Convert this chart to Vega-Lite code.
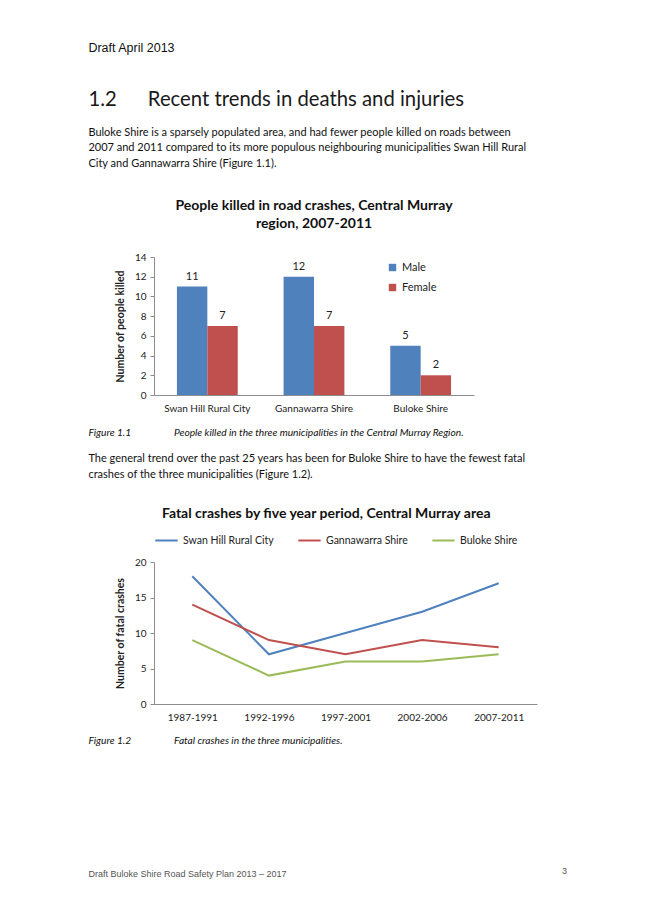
{
  "$schema": "https://vega.github.io/schema/vega-lite/v6.json",
  "background": "white",
  "padding": {"left": 88, "top": 41, "right": 0, "bottom": 0},
  "config": {
    "font": "Lato",
    "view": {"stroke": null},
    "axis": {"labelFont": "Lato", "titleFont": "Lato", "labelColor": "#222", "titleColor": "#222", "domainColor": "#8c8c8c", "tickColor": "#8c8c8c", "grid": false, "labelFontSize": 10, "titleFontSize": 10.5, "titleFontWeight": "bold"},
    "legend": {"labelFont": "Lato", "labelColor": "#222"},
    "title": {"anchor": "start", "color": "#111"},
    "concat": {"spacing": 14}
  },
  "resolve": {"scale": {"color": "independent"}, "legend": {"color": "independent"}},
  "title": {"text": "3", "orient": "bottom", "anchor": "end", "font": "Liberation Sans", "fontSize": 9, "fontWeight": "normal", "color": "#555", "offset": 0, "dy": -12, "dx": 30},
  "vconcat": [
    {
      "resolve": {"scale": {"color": "independent"}, "legend": {"color": "independent"}},
      "title": {"text": "Draft Buloke Shire Road Safety Plan 2013 – 2017", "orient": "bottom", "anchor": "start", "font": "Liberation Sans", "fontSize": 9, "fontWeight": "normal", "color": "#555", "offset": 124},
      "vconcat": [
        {
          "resolve": {"scale": {"color": "independent"}, "legend": {"color": "independent"}},
          "title": {"text": "Draft April 2013", "anchor": "start", "font": "Liberation Sans", "fontSize": 12.5, "fontWeight": "normal", "color": "#111", "offset": 36},
          "spacing": 14,
          "vconcat": [
            {
              "resolve": {"scale": {"color": "independent"}, "legend": {"color": "independent"}},
              "title": {
                "text": "1.2\u00a0\u00a0\u00a0\u00a0\u00a0\u00a0Recent trends in deaths and injuries",
                "subtitle": ["Buloke Shire is a sparsely populated area, and had fewer people killed on roads between", "2007 and 2011 compared to its more populous neighbouring municipalities Swan Hill Rural", "City and Gannawarra Shire (Figure 1.1)."],
                "anchor": "start", "font": "Lato", "fontSize": 20.3, "fontWeight": "normal", "color": "#1a1a1a",
                "subtitleFont": "Lato", "subtitleFontSize": 11, "subtitleColor": "#111", "subtitlePadding": 16, "subtitleLineHeight": 15.7,
                "offset": 30
              },
              "vconcat": [
                {
                  "resolve": {"scale": {"color": "independent"}, "legend": {"color": "independent"}},
                  "title": {"text": "Figure 1.1\u00a0\u00a0\u00a0\u00a0\u00a0\u00a0\u00a0\u00a0\u00a0\u00a0\u00a0\u00a0\u00a0\u00a0\u00a0\u00a0\u00a0\u00a0People killed in the three municipalities in the Central Murray Region.", "orient": "bottom", "anchor": "start", "font": "Lato", "fontSize": 10.2, "fontStyle": "italic", "fontWeight": "normal", "color": "#111", "offset": 15, "dx": -27},
                  "vconcat": [
                    {
                      "title": {"text": ["People killed in road crashes, Central Murray", "region, 2007-2011"], "anchor": "middle", "font": "Lato", "fontSize": 14, "fontWeight": "bold", "color": "#111", "lineHeight": 18, "offset": 21},
                      "width": 320,
                      "height": 138,
                      "data": {"values": [
                        {"municipality": "Swan Hill Rural City", "sex": "Male", "killed": 11},
                        {"municipality": "Swan Hill Rural City", "sex": "Female", "killed": 7},
                        {"municipality": "Gannawarra Shire", "sex": "Male", "killed": 12},
                        {"municipality": "Gannawarra Shire", "sex": "Female", "killed": 7},
                        {"municipality": "Buloke Shire", "sex": "Male", "killed": 5},
                        {"municipality": "Buloke Shire", "sex": "Female", "killed": 2}
                      ]},
                      "encoding": {
                        "x": {"field": "municipality", "type": "nominal", "sort": ["Swan Hill Rural City", "Gannawarra Shire", "Buloke Shire"], "scale": {"paddingInner": 0.43, "paddingOuter": 0.215}, "axis": {"title": null, "labelAngle": 0, "ticks": false, "labelPadding": 8}},
                        "xOffset": {"field": "sex", "type": "nominal", "sort": ["Male", "Female"]},
                        "y": {"field": "killed", "type": "quantitative", "scale": {"domain": [0, 14]}, "axis": {"title": "Number of people killed", "values": [0, 2, 4, 6, 8, 10, 12, 14], "tickSize": 4, "labelPadding": 4, "titlePadding": 9}}
                      },
                      "layer": [
                        {
                          "mark": {"type": "bar"},
                          "encoding": {
                            "color": {"field": "sex", "type": "nominal", "scale": {"domain": ["Male", "Female"], "range": ["#4F81BD", "#C0504D"]}, "legend": {"title": null, "orient": "none", "legendX": 233, "legendY": 5, "symbolType": "square", "symbolSize": 55, "labelFontSize": 11, "rowPadding": 8, "symbolOpacity": 1}}
                          }
                        },
                        {
                          "mark": {"type": "text", "dy": -10, "fontSize": 11, "color": "#222", "font": "Lato"},
                          "encoding": {"text": {"field": "killed", "type": "quantitative"}}
                        }
                      ]
                    }
                  ]
                }
              ]
            },
            {
              "resolve": {"scale": {"color": "independent"}, "legend": {"color": "independent"}},
              "title": {"text": ["The general trend over the past 25 years has been for Buloke Shire to have the fewest fatal", "crashes of the three municipalities (Figure 1.2)."], "anchor": "start", "font": "Lato", "fontSize": 11, "fontWeight": "normal", "color": "#111", "lineHeight": 15.7, "offset": 27},
              "vconcat": [
                {
                  "resolve": {"scale": {"color": "independent"}, "legend": {"color": "independent"}},
                  "title": {"text": "Figure 1.2\u00a0\u00a0\u00a0\u00a0\u00a0\u00a0\u00a0\u00a0\u00a0\u00a0\u00a0\u00a0\u00a0\u00a0\u00a0\u00a0\u00a0\u00a0Fatal crashes in the three municipalities.", "orient": "bottom", "anchor": "start", "font": "Lato", "fontSize": 10.2, "fontStyle": "italic", "fontWeight": "normal", "color": "#111", "offset": 14, "dx": -27},
                  "vconcat": [
                    {
                      "resolve": {"scale": {"color": "independent"}, "legend": {"color": "independent"}},
                      "title": {"text": "Fatal crashes by five year period, Central Murray area", "anchor": "middle", "font": "Lato", "fontSize": 14, "fontWeight": "bold", "color": "#111", "offset": 7},
                      "vconcat": [
                        {
                          "width": 383,
                          "height": 142,
                          "data": {"values": [
                            {"period": "1987-1991", "municipality": "Swan Hill Rural City", "crashes": 18},
                            {"period": "1992-1996", "municipality": "Swan Hill Rural City", "crashes": 7},
                            {"period": "1997-2001", "municipality": "Swan Hill Rural City", "crashes": 10},
                            {"period": "2002-2006", "municipality": "Swan Hill Rural City", "crashes": 13},
                            {"period": "2007-2011", "municipality": "Swan Hill Rural City", "crashes": 17},
                            {"period": "1987-1991", "municipality": "Gannawarra Shire", "crashes": 14},
                            {"period": "1992-1996", "municipality": "Gannawarra Shire", "crashes": 9},
                            {"period": "1997-2001", "municipality": "Gannawarra Shire", "crashes": 7},
                            {"period": "2002-2006", "municipality": "Gannawarra Shire", "crashes": 9},
                            {"period": "2007-2011", "municipality": "Gannawarra Shire", "crashes": 8},
                            {"period": "1987-1991", "municipality": "Buloke Shire", "crashes": 9},
                            {"period": "1992-1996", "municipality": "Buloke Shire", "crashes": 4},
                            {"period": "1997-2001", "municipality": "Buloke Shire", "crashes": 6},
                            {"period": "2002-2006", "municipality": "Buloke Shire", "crashes": 6},
                            {"period": "2007-2011", "municipality": "Buloke Shire", "crashes": 7}
                          ]},
                          "mark": {"type": "line", "strokeWidth": 2},
                          "encoding": {
                            "x": {"field": "period", "type": "ordinal", "scale": {"type": "point", "padding": 0.5}, "axis": {"title": null, "labelAngle": 0, "ticks": false, "labelPadding": 8}},
                            "y": {"field": "crashes", "type": "quantitative", "scale": {"domain": [0, 20]}, "axis": {"title": "Number of fatal crashes", "values": [0, 5, 10, 15, 20], "tickSize": 4, "labelPadding": 4, "titlePadding": 9}},
                            "color": {"field": "municipality", "type": "nominal", "scale": {"domain": ["Swan Hill Rural City", "Gannawarra Shire", "Buloke Shire"], "range": ["#4F81BD", "#C0504D", "#9BBB59"]}, "legend": {"title": null, "orient": "top", "direction": "horizontal", "symbolType": "stroke", "symbolStrokeWidth": 2, "symbolSize": 500, "labelFontSize": 10.5, "columnPadding": 20, "offset": 16}}
                          }
                        }
                      ]
                    }
                  ]
                }
              ]
            }
          ]
        }
      ]
    }
  ]
}
